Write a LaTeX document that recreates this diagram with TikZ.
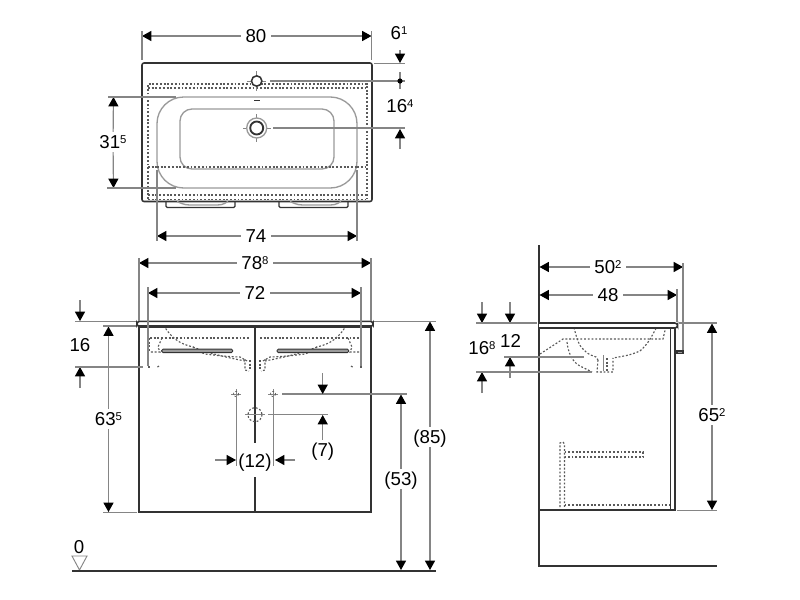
\documentclass[tikz,border=0pt]{standalone}
\usepackage{fontspec}
\setmainfont{Liberation Sans}
\usetikzlibrary{arrows.meta}
\definecolor{dimc}{HTML}{858585}
\definecolor{objc}{HTML}{333333}
\definecolor{hid}{HTML}{5A5A5A}
\definecolor{basin}{HTML}{9A9A9A}
\newcommand{\sy}[1]{\raisebox{4pt}{\fontsize{8.5}{8.5}\selectfont #1}}
\tikzset{
  tipb/.tip={Triangle[length=7pt,width=7.5pt,black]},
  dimline/.style={draw=dimc,line width=0.9pt},
  dima/.style={dimline,-tipb},
  obj/.style={draw=objc,line width=1.15pt},
  thin obj/.style={draw=objc,line width=0.9pt},
  hidden/.style={draw=hid,line width=0.85pt,dash pattern=on 1.4pt off 1.4pt},
  bas/.style={draw=basin,line width=1pt},
  lbl/.style={font=\fontsize{14}{14}\selectfont,text=black,inner xsep=3.5pt,inner ysep=2.5pt,text height=9.9pt,text depth=0pt,anchor=center},
}
\begin{document}
\begin{tikzpicture}[x=0.75pt,y=-0.75pt]
\useasboundingbox (0,0) rectangle (800,600);
\fill[white] (0,0) rectangle (800,600);

% ===== TOP VIEW =====
\draw[hidden] (148,199) -- (148,84) -- (367,84) -- (367,199);
\draw[hidden] (148,88) -- (367,88);
\draw[hidden] (148,167) -- (367,167);
\draw[hidden] (148,195) -- (367,195);
\draw[hidden] (148,199.5) -- (367,199.5);
\draw[bas,rounded corners=20pt,fill=white] (157,97) rectangle (357,188);
\draw[bas,rounded corners=9pt] (180,109) rectangle (334,169);
\draw[hidden] (157,167) -- (357,167);
\draw[obj,rounded corners=1.5pt] (142,63) rectangle (372,201.5);
\draw[thin obj,rounded corners=1pt] (166,201.5) -- (166,207.5) -- (235,207.5) -- (235,201.5);
\draw[thin obj,rounded corners=1pt] (279,201.5) -- (279,207.5) -- (348,207.5) -- (348,201.5);
\draw[bas] (177,201.5) .. controls (185,205) .. (195,205) -- (212,205) .. controls (222,205) .. (228,201.5);
\draw[bas] (290,201.5) .. controls (298,205) .. (308,205) -- (325,205) .. controls (335,205) .. (341,201.5);
% overflow, tap hole, drain
\draw[objc,line width=1pt] (254,100.5) -- (259.5,100.5);
\draw[dimc,line width=0.7pt] (247,81) -- (266,81) (256.7,71) -- (256.7,91);
\draw[obj,fill=white] (256.7,81) circle (5.2);
\draw[dimc,line width=0.7pt] (243,128) -- (271,128) (256.7,114) -- (256.7,142);
\draw[bas,fill=white] (256.7,128) circle (10);
\draw[obj,line width=1.4pt,fill=white] (256.7,128) circle (6.5);

% 80
\coordinate (a80l) at (142,36); \coordinate (a80r) at (371.5,36);
\node[lbl] (t80) at (256,36) {80};
\draw[dima] (t80) -- (a80l); \draw[dima] (t80) -- (a80r);
\draw[dimline] (142,31) -- (142,60) (371.5,31) -- (371.5,60);
% 6-1
\node[lbl] (t61) at (399,33) {6\sy{1}};
\coordinate (a61s) at (400,50); \coordinate (a61e) at (400,63);
\draw[dima] (a61s) -- (a61e);
\draw[dimline] (374,63.5) -- (405,63.5);
\draw[dimline] (270,81) -- (405,81);
\draw[dimline] (400,72) -- (400,89);
\fill[black] (400,81) circle (2.6);
% 16-4
\node[lbl] (t164) at (400,106) {16\sy{4}};
\draw[dimline] (273,128) -- (405,128);
\coordinate (a164s) at (400,149); \coordinate (a164e) at (400,129);
\draw[dima] (a164s) -- (a164e);
% 31-5
\node[lbl] (t315) at (113,142) {31\sy{5}};
\coordinate (a315t) at (113.5,97); \coordinate (a315b) at (113.5,188);
\draw[dima] (t315) -- (a315t); \draw[dima] (t315) -- (a315b);
\draw[dimline] (108,97) -- (176,97) (107,188) -- (176,188);
% 74
\node[lbl] (t74) at (256,236) {74};
\coordinate (a74l) at (157,236); \coordinate (a74r) at (357,236);
\draw[dima] (t74) -- (a74l); \draw[dima] (t74) -- (a74r);
\draw[dimline] (157,170) -- (157,241) (357,170) -- (357,241);

% ===== FRONT VIEW =====
\draw[hidden] (150,338) -- (250,338) (260,338) -- (360,338);
\foreach \s in {1,-1}{
\begin{scope}[shift={(255,0)},xscale=\s]
  \draw[hidden] (-93,322) .. controls (-85,338) and (-75,344) .. (-62,347) .. controls (-55,352) .. (-50,354) .. controls (-35,356) and (-20,357) .. (-15,357) -- (-8,361);
  \draw[hidden] (-62,347) .. controls (-45,354) and (-25,358) .. (-10,361);
  \draw[hidden] (-10,359) -- (-10,370) -- (-6,371);
  \draw[hidden] (-5,360) -- (-5,370);
  \draw[hidden] (-93,338) -- (-97,347) -- (-95,352) -- (-105,352);
  \draw[hidden] (-106,338) -- (-106,351);
  \draw[hidden] (-96,366) -- (-99,368);
  \draw[hidden] (-106,366) -- (-106,369);
\end{scope}}
\draw[obj] (139,326) -- (139,512) -- (371,512) -- (371,326);
\node[lbl] (t12) at (255,461) {(12)};
\coordinate (cu) at (255,443); \coordinate (cl) at (255,477);
\draw[obj] (255,327) -- (cu);
\draw[obj] (cl) -- (255,512);
\draw[draw=objc,line width=0.7pt,fill=basin,rounded corners=1pt] (161.7,349.2) rectangle (232.7,352.6);
\draw[draw=objc,line width=0.7pt,fill=basin,rounded corners=1pt] (277,349.2) rectangle (348.7,352.6);
\draw[obj,fill=white,rounded corners=2pt] (137,321.3) rectangle (373,326.5);
\draw[objc,line width=1.6pt] (138,326.5) -- (372,326.5);
% hole symbols
\foreach \px/\nm in {236/A,273/B}{
  \draw[dimc,line width=0.6pt] (\px-5,394) -- (\px+5,394) (\px,389) -- (\px,399);
  \draw[hidden,line width=0.5pt] (\px,394) circle (2.6);
}
\draw[dimc,line width=0.6pt] (245,414.7) -- (265,414.7);
\draw[hidden] (255,414.7) circle (7);
% 78-8
\node[lbl] (t788) at (255,263) {78\sy{8}};
\coordinate (a788l) at (139,263); \coordinate (a788r) at (371,263);
\draw[dima] (t788) -- (a788l); \draw[dima] (t788) -- (a788r);
\draw[dimline] (139,258) -- (139,321) (371,258) -- (371,321);
% 72
\node[lbl] (t72) at (255,293) {72};
\coordinate (a72l) at (148,293); \coordinate (a72r) at (361,293);
\draw[dima] (t72) -- (a72l); \draw[dima] (t72) -- (a72r);
\draw[dimline] (148,287) -- (148,366) (361,287) -- (361,366);
% 16
\node[lbl] (t16) at (80,345) {16};
\coordinate (a16as) at (80,300); \coordinate (a16ae) at (80,321);
\coordinate (a16bs) at (80,388); \coordinate (a16be) at (80,367);
\draw[dima] (a16as) -- (a16ae); \draw[dima] (a16bs) -- (a16be);
\draw[dimline] (75,321.3) -- (136,321.3) (75,367) -- (143,367);
% 63-5
\node[lbl] (t635) at (108.5,419) {63\sy{5}};
\coordinate (a635t) at (108.5,326.5); \coordinate (a635b) at (108.5,512);
\draw[dima] (t635) -- (a635t); \draw[dima] (t635) -- (a635b);
\draw[dimline] (103,326) -- (136,326) (103,512.5) -- (137,512.5);
% 85
\node[lbl] (t85) at (430,437) {(85)};
\coordinate (a85t) at (430,321.5); \coordinate (a85b) at (430,570);
\draw[dima] (t85) -- (a85t); \draw[dima] (t85) -- (a85b);
\draw[dimline] (374,321.3) -- (436,321.3);
% 53
\node[lbl] (t53) at (401,479) {(53)};
\coordinate (a53t) at (401,394.5); \coordinate (a53b) at (401,570);
\draw[dima] (t53) -- (a53t); \draw[dima] (t53) -- (a53b);
\draw[dimline] (282,394) -- (407,394);
% 7
\node[lbl] (t7) at (322.7,450) {(7)};
\coordinate (a7as) at (322.7,373); \coordinate (a7ae) at (322.7,394);
\coordinate (a7be) at (322.7,415);
\draw[dima] (a7as) -- (a7ae);
\draw[dima] (t7.north) -- (a7be);
\draw[dimline] (268,414.7) -- (328,414.7);
% 12
\coordinate (a12as) at (215,460); \coordinate (a12ae) at (236,460);
\coordinate (a12bs) at (295,460); \coordinate (a12be) at (275,460);
\draw[dima] (a12as) -- (a12ae); \draw[dima] (a12bs) -- (a12be);
\draw[dimline] (236.3,394) -- (236.3,466) (273.5,394) -- (273.5,466);
% level 0
\node[lbl] (t0) at (79,547) {0};
\draw[dimc,line width=0.7pt] (72,556) -- (87,556) -- (79.5,570) -- cycle;
\draw[objc,line width=1.5pt] (72,570.7) -- (436,570.7);

% ===== SIDE VIEW =====
\draw[hidden] (573,324) .. controls (576,335) and (578,345) .. (583,349) .. controls (588,354) .. (596,357) -- (598,360);
\draw[hidden] (658,325) .. controls (652,335) and (650,342) .. (640,351) .. controls (630,355) .. (613,358);
\draw[hidden] (540,354) -- (563,339) -- (663,339) -- (666,326);
\draw[hidden] (567,342) .. controls (568,352) and (572,362) .. (580,366) -- (592,372);
\draw[hidden] (598,360) -- (597,372) -- (613,372) -- (613,358);
\draw[hidden] (607,358) -- (607,371);
\draw[dimc,line width=0.6pt] (603,355) -- (603,371);
\draw[hidden] (560,507) -- (560,443) -- (563,442) -- (564.5,444) -- (564.5,507);
\draw[hidden] (564.5,452) -- (643,452) -- (643,457) -- (564.5,457);
\draw[hidden] (564.5,505) -- (670,505);
\draw[obj] (539,245) -- (539,566) -- (717,566);
\draw[obj] (539,510) -- (675,510) -- (675,328);
\draw[obj] (670.5,328) -- (670.5,510);
\draw[obj,rounded corners=2pt,fill=white] (539,323) -- (677.5,323) -- (677.5,328) -- (539,328);
\draw[thin obj,fill=basin] (677,351) rectangle (683,353.5);
% 50-2
\node[lbl] (t502) at (608,267) {50\sy{2}};
\coordinate (a502l) at (539.5,267); \coordinate (a502r) at (683,267);
\draw[dima] (t502) -- (a502l); \draw[dima] (t502) -- (a502r);
\draw[dimline] (683,263) -- (683,350);
% 48
\node[lbl] (t48) at (608,295) {48};
\coordinate (a48l) at (539.5,295); \coordinate (a48r) at (677,295);
\draw[dima] (t48) -- (a48l); \draw[dima] (t48) -- (a48r);
\draw[dimline] (677,289) -- (677,322);
% 16-8 and 12
\node[lbl] (t168) at (482,348) {16\sy{8}};
\node[lbl] (t12b) at (510.5,341) {12};
\coordinate (a168s) at (482,302); \coordinate (a168e) at (482,323);
\coordinate (a12cs) at (510,302); \coordinate (a12ce) at (510,323);
\coordinate (a12ds) at (510,378); \coordinate (a12de) at (510,357);
\coordinate (a168bs) at (482,393); \coordinate (a168be) at (482,372);
\draw[dima] (a168s) -- (a168e); \draw[dima] (a12cs) -- (a12ce);
\draw[dima] (a12ds) -- (a12de); \draw[dima] (a168bs) -- (a168be);
\draw[dimline] (476,323) -- (537,323) (504,357) -- (584,357) (476,372) -- (592,372);
% 65-2
\node[lbl] (t652) at (712,415) {65\sy{2}};
\coordinate (a652t) at (712,323.5); \coordinate (a652b) at (712,510);
\draw[dima] (t652) -- (a652t); \draw[dima] (t652) -- (a652b);
\draw[dimline] (679,323) -- (717,323) (677,510.3) -- (717,510.3);
\end{tikzpicture}
\end{document}
